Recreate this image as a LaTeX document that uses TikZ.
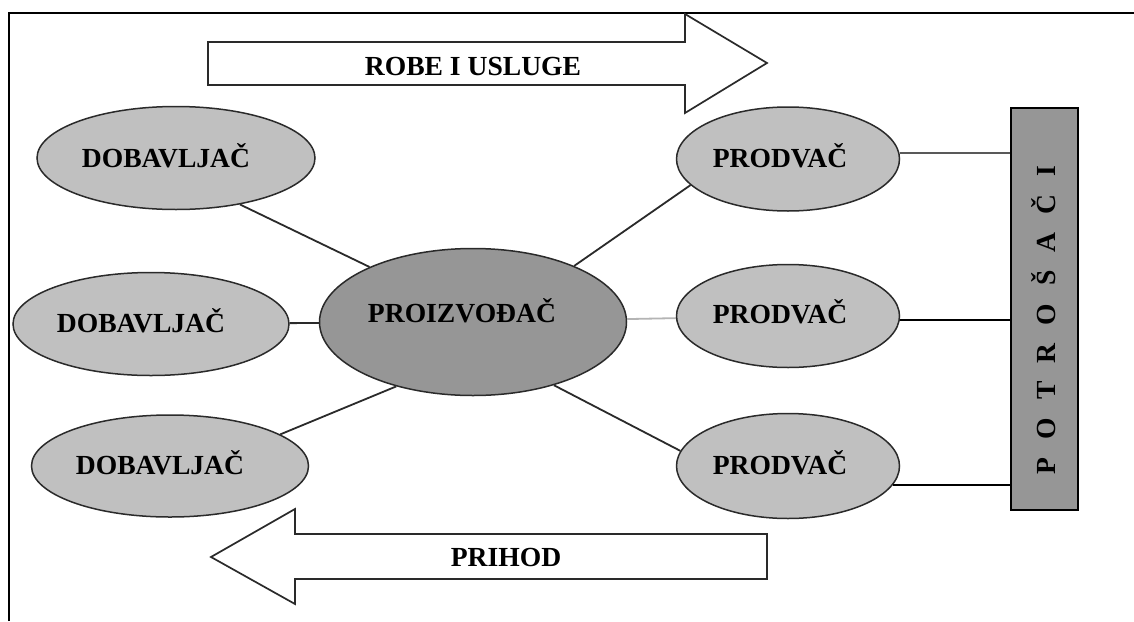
\documentclass[tikz,border=0pt]{standalone}
\usepackage{fontspec}
\setmainfont{Liberation Serif}
\usetikzlibrary{shapes.geometric}
\definecolor{lightfill}{HTML}{C0C0C0}
\definecolor{darkfill}{HTML}{969696}
\definecolor{edgecol}{HTML}{2A2A2A}
\definecolor{palelink}{HTML}{B4B4B4}
\tikzset{
  oval/.style={ellipse, draw=edgecol, line width=1.5pt, fill=lightfill, inner sep=0pt},
  lbl/.style={font=\fontsize{27.6}{30}\selectfont\bfseries, anchor=base, inner sep=0pt},
  link/.style={draw=edgecol, line width=1.8pt},
  bigarrow/.style={draw=edgecol, line width=1.7pt, fill=white, line join=miter},
}
\newcommand{\lsp}{\hspace{18pt}}
\begin{document}
\begin{tikzpicture}[x=1pt,y=-1pt]
\useasboundingbox (0,0) rectangle (1134,621);
\fill[white] (0,0) rectangle (1134,621);
% frame
\draw[line width=2.2pt] (9,621) -- (9,13) -- (1134,13);

% big arrows
\draw[bigarrow] (208,42) -- (685,42) -- (685,14) -- (767,63) -- (685,113) -- (685,85) -- (208,85) -- cycle;
\node[lbl] (robe) at (473,75) {ROBE I USLUGE};
\draw[bigarrow] (767,534) -- (295,534) -- (295,509) -- (211,557) -- (295,604) -- (295,579) -- (767,579) -- cycle;
\node[lbl] (prihod) at (506,566) {PRIHOD};

% ellipses
\node[oval, minimum width=278pt, minimum height=103pt] (d1) at (176,158) {};
\node[oval, minimum width=276pt, minimum height=103pt] (d2) at (151,324) {};
\node[oval, minimum width=277pt, minimum height=102pt] (d3) at (170,466) {};
\node[oval, fill=darkfill, minimum width=307pt, minimum height=147pt] (p) at (473,322) {};
\node[oval, minimum width=223pt, minimum height=104pt] (s1) at (788,159) {};
\node[oval, minimum width=223pt, minimum height=103pt] (s2) at (788,316) {};
\node[oval, minimum width=223pt, minimum height=105pt] (s3) at (788,466) {};

% consumers box
\node[draw=black, line width=2.4pt, fill=darkfill, minimum width=67pt, minimum height=402pt, inner sep=0pt] (potr) at (1044.5,309) {};
\node[lbl, rotate=90] (potrtxt) at (1055,320) {P\lsp O\lsp T\lsp R\lsp O\lsp Š\lsp A\lsp Č\lsp I};

% labels
\node[lbl] (t1) at (166,167) {DOBAVLJAČ};
\node[lbl] (t2) at (141,332) {DOBAVLJAČ};
\node[lbl] (t3) at (160,474) {DOBAVLJAČ};
\node[lbl] (tp) at (462,322) {PROIZVOĐAČ};
\node[lbl] (u1) at (780,167) {PRODVAČ};
\node[lbl] (u2) at (780,323) {PRODVAČ};
\node[lbl] (u3) at (780,474) {PRODVAČ};

% connectors
\draw[link] (d1.-36) -- (p.152);
\draw[link] (d2) -- (p);
\draw[link] (d3.16) -- (p.220);
\draw[link] (p.29) -- (s1.195);
\draw[link, draw=palelink] (p) -- (s2);
\draw[link] (p.-38) -- (s3.172);
\draw[link, draw=gray!70!black, line width=1.4pt] (s1.3) -- (s1.3 -| potr.west);
\draw[link, draw=black, line width=2pt] (s2.-2) -- (s2.-2 -| potr.west);
\draw[link, draw=black, line width=2pt] (s3.-10) -- (s3.-10 -| potr.west);
\end{tikzpicture}
\end{document}
